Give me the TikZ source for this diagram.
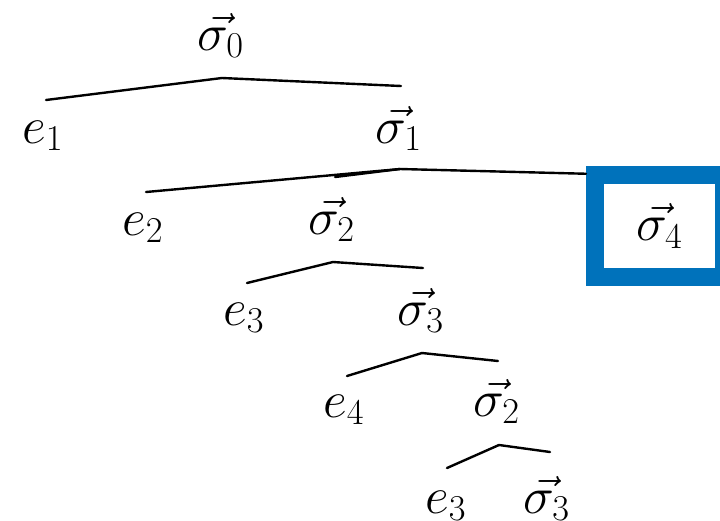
\RequirePackage{fix-cm}
\documentclass[tikz,border=0pt]{standalone}
\usetikzlibrary{calc}

\definecolor{boxblue}{RGB}{0,114,187}

\tikzset{
  lbl/.style={anchor=base west, inner sep=0pt, font=\fontsize{26}{31}\selectfont},
  branch/.style={line width=1.2pt, line cap=round},
}

\begin{document}
\begin{tikzpicture}[x=0.5pt, y=-0.5pt]
\clip (0,0) rectangle (720,521);

% the expansion, one level per row
\node[lbl] (s0) at (197,50) {$\vec{\sigma_0}$};
\node[lbl] (e1) at (22,143) {$e_1$};
\node[lbl] (s1) at (375,143) {$\vec{\sigma_1}$};
\node[lbl] (e2) at (122,235) {$e_2$};
\node[lbl] (s2) at (308,234) {$\vec{\sigma_2}$};
\node[lbl, anchor=center, draw=boxblue, line width=9pt,
      minimum width=64.5pt, minimum height=51.25pt] (s4) at (659.5,226) {$\vec{\sigma_4}$};
\node[lbl] (e3) at (223,325) {$e_3$};
\node[lbl] (s3) at (397,325) {$\vec{\sigma_3}$};
\node[lbl] (e4) at (323,417) {$e_4$};
\node[lbl] (s2b) at (473,416) {$\vec{\sigma_2}$};
\node[lbl] (e3b) at (425,513) {$e_3$};
\node[lbl] (s3b) at (523,513) {$\vec{\sigma_3}$};

% branches: fork under the parent, ends over the children
\draw[branch] ($(e1.base west)+(24,-43)$) -- ($(s0.base west)+(25,28)$) -- ($(s1.base west)+(26,-57)$);
\draw[branch] ($(e2.base west)+(24,-43)$) -- ($(s1.base west)+(25,26)$) -- ($(s4.north west)+(0,8)$);
\draw[branch] ($(s1.base west)+(25,26)$) -- ($(s2.base west)+(27,-57)$);
\draw[branch] ($(e3.base west)+(24,-42)$) -- ($(s2.base west)+(25,28)$) -- ($(s3.base west)+(26,-57)$);
\draw[branch] ($(e4.base west)+(24,-41)$) -- ($(s3.base west)+(25,28)$) -- ($(s2b.base west)+(25,-55)$);
\draw[branch] ($(e3b.base west)+(22,-45)$) -- ($(s2b.base west)+(26,29)$) -- ($(s3b.base west)+(27,-61)$);
\end{tikzpicture}
\end{document}
